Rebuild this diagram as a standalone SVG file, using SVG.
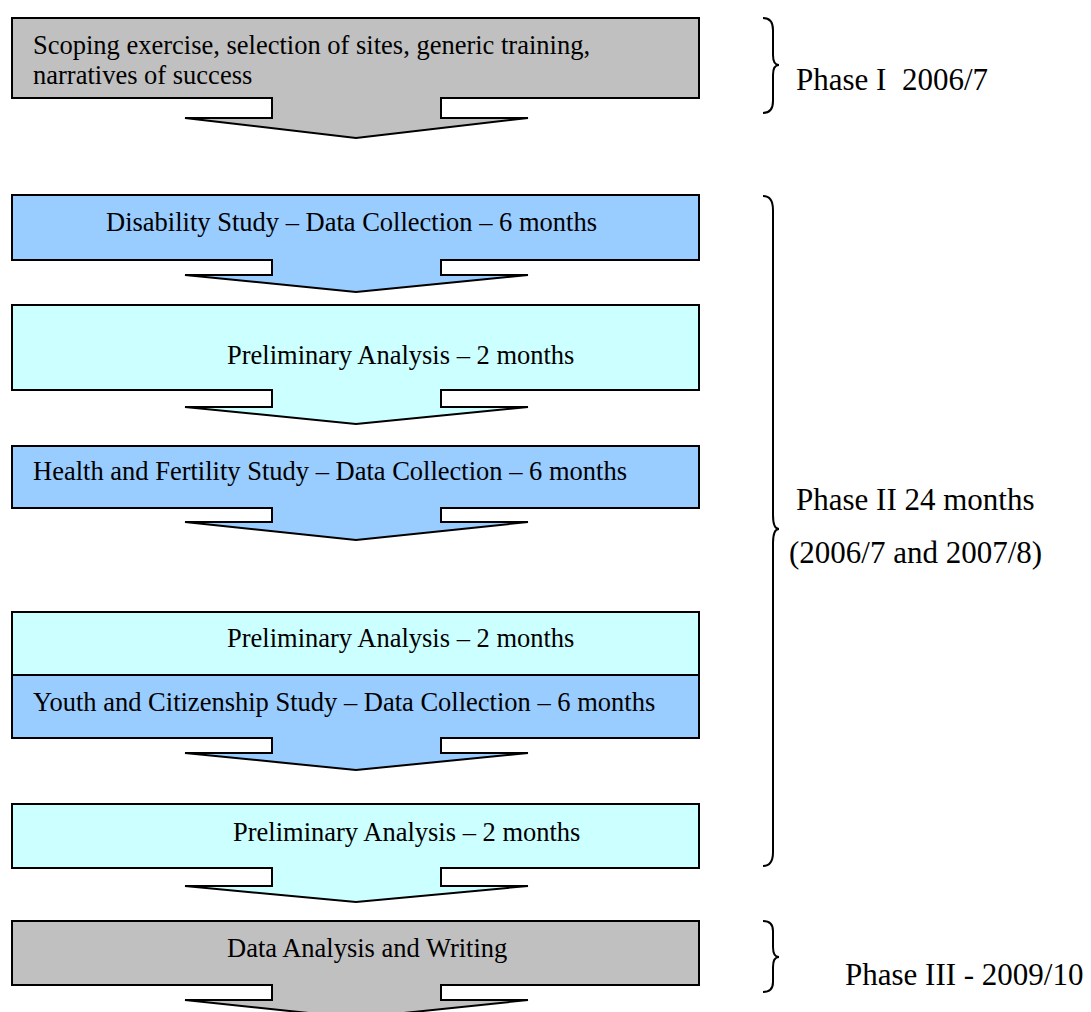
<svg xmlns="http://www.w3.org/2000/svg" width="1091" height="1012" viewBox="0 0 1091 1012">
<style>
  .shape { stroke: #000; stroke-width: 2; stroke-linejoin: miter; }
  .gray { fill: #C0C0C0; }
  .blue { fill: #99CCFF; }
  .cyan { fill: #CCFFFF; }
  .t { font-family: "Liberation Serif", "Times New Roman", serif; font-size: 26.5px; fill: #000; }
  .ph { font-family: "Liberation Serif", "Times New Roman", serif; font-size: 31px; fill: #000; }
  .brace { fill: none; stroke: #000; stroke-width: 2; }
</style>
<rect width="1091" height="1012" fill="#fff"/>

<g id="node-scoping">
  <path class="shape gray" d="M12,18 H699 V98 H441 V118 H528 L356,138 L185,118 H272 V98 H12 Z"/>
  <text class="t" x="33" y="54">Scoping exercise, selection of sites, generic training,</text>
  <text class="t" x="33" y="84">narratives of success</text>
</g>

<g id="node-disability">
  <path class="shape blue" d="M12,195 H699 V260 H441 V275 H528 L356,292 L185,275 H272 V260 H12 Z"/>
  <text class="t" x="106" y="231">Disability Study – Data Collection – 6 months</text>
</g>

<g id="node-prelim1">
  <path class="shape cyan" d="M12,305 H699 V390 H441 V407 H528 L356,424 L185,407 H272 V390 H12 Z"/>
  <text class="t" x="227" y="364">Preliminary Analysis – 2 months</text>
</g>

<g id="node-health">
  <path class="shape blue" d="M12,446 H699 V508 H441 V522 H528 L356,540 L185,522 H272 V508 H12 Z"/>
  <text class="t" x="33" y="480">Health and Fertility Study – Data Collection – 6 months</text>
</g>

<g id="node-prelim2">
  <rect class="shape cyan" x="12" y="612" width="687" height="63"/>
  <text class="t" x="227" y="647">Preliminary Analysis – 2 months</text>
</g>

<g id="node-youth">
  <path class="shape blue" d="M12,675 H699 V738 H441 V753 H528 L356,770 L185,753 H272 V738 H12 Z"/>
  <text class="t" x="33" y="711">Youth and Citizenship Study – Data Collection – 6 months</text>
</g>

<g id="node-prelim3">
  <path class="shape cyan" d="M12,804 H699 V868 H441 V886 H528 L356,902 L185,886 H272 V868 H12 Z"/>
  <text class="t" x="233" y="841">Preliminary Analysis – 2 months</text>
</g>

<g id="node-writing">
  <path class="shape gray" d="M12,921 H699 V985 H441 V1000 H528 L356,1018 L185,1000 H272 V985 H12 Z"/>
  <text class="t" x="227" y="957">Data Analysis and Writing</text>
</g>

<g id="connectors">
  <path class="brace" d="M763,18 Q773,18 773,30 V55 Q773,65 779,65 Q773,65 773,75 V101 Q773,113 763,113"/>
  <path class="brace" d="M763,196 Q773,196 773,210 V515 Q773,529 779,529 Q773,529 773,543 V852 Q773,866 763,866"/>
  <path class="brace" d="M763,921 Q773,921 773,931 V947 Q773,957 779,957 Q773,957 773,967 V982 Q773,992 763,992"/>
</g>

<g id="labels">
  <text class="ph" x="796" y="90">Phase I&#160; 2006/7</text>
  <text class="ph" x="796" y="510">Phase II 24 months</text>
  <text class="ph" x="789" y="563">(2006/7 and 2007/8)</text>
  <text class="ph" x="845" y="985">Phase III - 2009/10</text>
</g>
</svg>
